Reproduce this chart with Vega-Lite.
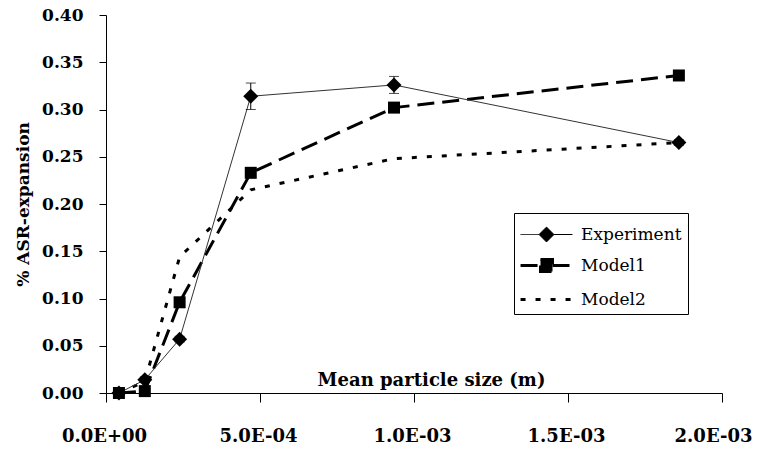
{
  "$schema": "https://vega.github.io/schema/vega-lite/v6.json",
  "width": 616,
  "height": 378,
  "autosize": {"type": "none"},
  "padding": {"left": 106, "top": 15, "right": 36, "bottom": 61},
  "background": "white",
  "config": {
    "view": {"stroke": null},
    "font": "DejaVu Serif",
    "axis": {
      "grid": false,
      "domainColor": "black",
      "domainWidth": 1,
      "tickColor": "black",
      "tickWidth": 1,
      "labelFont": "DejaVu Serif",
      "labelFontWeight": "bold",
      "labelColor": "black",
      "titleFont": "DejaVu Serif",
      "titleFontWeight": "bold",
      "titleColor": "black"
    },
    "legend": {
      "orient": "none",
      "legendX": 408,
      "legendY": 198,
      "strokeColor": "black",
      "fillColor": "white",
      "padding": 6,
      "symbolSize": 900,
      "symbolOffset": 10,
      "labelFont": "DejaVu Serif",
      "labelFontSize": 17,
      "labelFontWeight": "normal",
      "labelColor": "black",
      "labelOffset": 18,
      "rowPadding": 5,
      "labelLimit": 300
    }
  },
  "data": {
    "values": [
      {"series": "Experiment", "x": 0.000042, "y": 0.000, "lo": -0.005, "hi": 0.005},
      {"series": "Experiment", "x": 0.000126, "y": 0.014, "lo": 0.011, "hi": 0.017},
      {"series": "Experiment", "x": 0.000239, "y": 0.057, "lo": 0.054, "hi": 0.060},
      {"series": "Experiment", "x": 0.000470, "y": 0.314, "lo": 0.300, "hi": 0.328},
      {"series": "Experiment", "x": 0.000935, "y": 0.326, "lo": 0.317, "hi": 0.335},
      {"series": "Experiment", "x": 0.001860, "y": 0.265, "lo": 0.262, "hi": 0.268},
      {"series": "Model1", "x": 0.000042, "y": 0.000},
      {"series": "Model1", "x": 0.000126, "y": 0.002},
      {"series": "Model1", "x": 0.000239, "y": 0.096},
      {"series": "Model1", "x": 0.000470, "y": 0.233},
      {"series": "Model1", "x": 0.000935, "y": 0.302},
      {"series": "Model1", "x": 0.001860, "y": 0.336},
      {"series": "Model2", "x": 0.000042, "y": 0.000},
      {"series": "Model2", "x": 0.000126, "y": 0.012},
      {"series": "Model2", "x": 0.000239, "y": 0.144},
      {"series": "Model2", "x": 0.000470, "y": 0.215},
      {"series": "Model2", "x": 0.000935, "y": 0.248},
      {"series": "Model2", "x": 0.001860, "y": 0.265}
    ]
  },
  "encoding": {
    "x": {
      "field": "x",
      "type": "quantitative",
      "scale": {"domain": [0, 0.002], "nice": false, "zero": false},
      "axis": {
        "title": "Mean particle size (m)",
        "values": [0, 0.0005, 0.001, 0.0015, 0.002],
        "labelExpr": "datum.value == 0 ? '0.0E+00' : datum.value < 0.0007 ? '5.0E-04' : datum.value < 0.0012 ? '1.0E-03' : datum.value < 0.0017 ? '1.5E-03' : '2.0E-03'",
        "labelFontSize": 18,
        "labelOffset": {"condition": {"test": "datum.value >= 0.0019", "value": -9}, "value": -2},
        "tickSize": 9,
        "labelPadding": 25,
        "labelBaseline": "top",
        "titleFontSize": 18,
        "titleX": 325,
        "titleY": -8,
        "titleAlign": "center",
        "titleBaseline": "alphabetic",
        "labelFlush": false,
        "labelOverlap": false
      }
    },
    "y": {
      "field": "y",
      "type": "quantitative",
      "scale": {"domain": [0, 0.4], "nice": false},
      "axis": {
        "title": "% ASR-expansion",
        "values": [0, 0.05, 0.1, 0.15, 0.2, 0.25, 0.3, 0.35, 0.4],
        "format": ".2f",
        "labelFontSize": 17,
        "tickSize": 7,
        "labelPadding": 16,
        "titleFontSize": 17,
        "titleX": -83,
        "titleY": 189,
        "titleAngle": 270,
        "titleAlign": "center",
        "titleBaseline": "middle",
        "labelFlush": false,
        "labelOverlap": false
      }
    }
  },
  "layer": [
    {
      "transform": [{"filter": "datum.series == 'Model2'"}],
      "mark": {"type": "line", "color": "black", "strokeWidth": 3, "strokeDash": [5, 10]}
    },
    {
      "transform": [{"filter": "datum.series == 'Model1'"}],
      "mark": {"type": "line", "color": "black", "strokeWidth": 3, "strokeDash": [17, 8]}
    },
    {
      "transform": [{"filter": "datum.series == 'Experiment'"}],
      "mark": {"type": "line", "color": "#333333", "strokeWidth": 1}
    },
    {
      "transform": [{"filter": "datum.series == 'Experiment'"}],
      "mark": {"type": "rule", "color": "black", "strokeWidth": 1},
      "encoding": {"y": {"field": "lo", "type": "quantitative"}, "y2": {"field": "hi"}}
    },
    {
      "transform": [{"filter": "datum.series == 'Experiment'"}],
      "mark": {"type": "tick", "orient": "horizontal", "color": "black", "thickness": 1, "size": 10},
      "encoding": {"y": {"field": "lo", "type": "quantitative"}}
    },
    {
      "transform": [{"filter": "datum.series == 'Experiment'"}],
      "mark": {"type": "tick", "orient": "horizontal", "color": "black", "thickness": 1, "size": 10},
      "encoding": {"y": {"field": "hi", "type": "quantitative"}}
    },
    {
      "transform": [{"filter": "datum.series == 'Model1'"}],
      "mark": {"type": "point", "shape": "square", "filled": true, "color": "black", "opacity": 1, "size": 144}
    },
    {
      "transform": [{"filter": "datum.series == 'Experiment'"}],
      "mark": {"type": "point", "shape": "diamond", "filled": true, "color": "black", "opacity": 1, "size": 225}
    },
    {
      "mark": {"type": "point", "filled": true, "fill": "black", "stroke": "black", "opacity": 0},
      "encoding": {
        "shape": {
          "field": "series",
          "type": "nominal",
          "scale": {
            "domain": ["Experiment", "Model1", "Model2"],
            "range": [
              "M-1.73,0H-0.5M0.5,0H1.73M0,-0.5L0.5,0L0,0.5L-0.5,0Z",
              "M-1.73,0H-0.4M0.4,0H1.73M-0.4,-0.4H0.4V0.4H-0.4Z",
              "M-1.73,0H1.73"
            ]
          },
          "legend": {"title": null}
        },
        "strokeDash": {
          "field": "series",
          "type": "nominal",
          "scale": {
            "domain": ["Experiment", "Model1", "Model2"],
            "range": [[1, 0], [17, 8], [5, 10]]
          },
          "legend": {"title": null}
        },
        "strokeWidth": {
          "field": "series",
          "type": "nominal",
          "scale": {
            "type": "ordinal",
            "domain": ["Experiment", "Model1", "Model2"],
            "range": [1, 3, 3]
          },
          "legend": {"title": null}
        }
      }
    }
  ]
}
